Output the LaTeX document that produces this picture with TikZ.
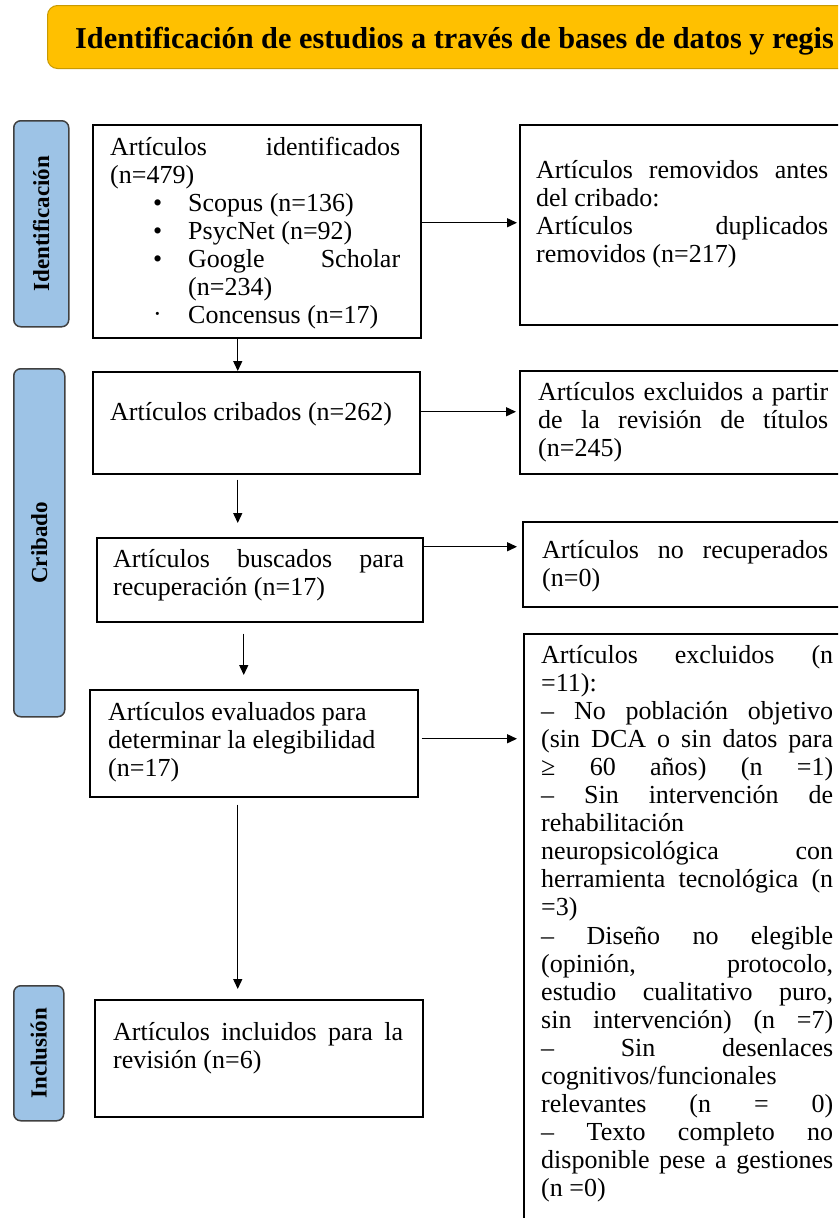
\documentclass[tikz,border=0pt]{standalone}
\usepackage{graphicx}
\usepackage{fontspec}
\setmainfont{Liberation Serif}
\usetikzlibrary{arrows.meta,calc}
\definecolor{gold}{HTML}{FFC000}
\definecolor{golddraw}{HTML}{C99A00}
\definecolor{lblue}{HTML}{9DC3E6}
\definecolor{lborder}{HTML}{404040}
\hbadness=10000 \hfuzz=80pt
\newcommand\Jl[2]{\hbox to #1{#2}}
\newcommand\Nl[1]{\hbox{#1}}
\newcommand\Par[1]{\vtop{\baselineskip=28.1pt\lineskiplimit=-100pt\lineskip=0pt #1}}
\newcommand\Bul[2]{\hbox{\hbox to 78pt{\hskip43pt #1\hfil}#2}}
\begin{document}
\begin{tikzpicture}[x=1pt,y=-1pt,
  box/.style={draw=black, line width=1.5pt, fill=white, inner sep=0pt, anchor=north west},
  lab/.style={draw=lborder, line width=1.5pt, fill=lblue, rounded corners=7pt, inner sep=0pt, anchor=north west, font=\bfseries\fontsize{23pt}{25pt}\selectfont},
  banner/.style={draw=golddraw, line width=1pt, fill=gold, rounded corners=10pt, inner sep=0pt, anchor=north west},
  txt/.style={anchor=base west, inner sep=0pt, font=\fontsize{26pt}{28.1pt}\selectfont},
  arr/.style={-{Triangle[length=10pt,width=9pt]}, line width=1.4pt}]
\useasboundingbox (0,0) rectangle (838,1218);
\clip (0,0) rectangle (838,1218);

% banner
\node[banner, minimum width=900pt, minimum height=63pt] (ban) at (47,5) {};
\node[anchor=base west, inner sep=0pt, font=\bfseries\fontsize{30.3pt}{32pt}\selectfont] (tban) at (75,48) {Identificación de estudios a través de bases de datos y regis};

% stage labels
\node[lab, minimum width=55pt, minimum height=206pt] (lab1) at (13,120) {\rotatebox{90}{Identificación}};
\node[lab, minimum width=51pt, minimum height=348pt] (lab2) at (13,368) {\rotatebox{90}{Cribado}};
\node[lab, minimum width=50pt, minimum height=135pt] (lab3) at (13,985) {\rotatebox{90}{Inclusión}};

% left boxes
\node[box, minimum width=328pt, minimum height=213pt] (b1) at (92,124) {};
\node[box, minimum width=327pt, minimum height=102pt] (b2) at (92,371) {};
\node[box, minimum width=326pt, minimum height=84pt] (b3) at (96,537) {};
\node[box, minimum width=328pt, minimum height=107pt] (b4) at (89,689) {};
\node[box, minimum width=328pt, minimum height=117pt] (b5) at (94,999) {};

% right boxes
\node[box, minimum width=340pt, minimum height=200pt] (r1) at (519,124) {};
\node[box, minimum width=340pt, minimum height=103pt] (r2) at (519,370) {};
\node[box, minimum width=340pt, minimum height=85pt] (r3) at (522,521) {};
\node[box, minimum width=340pt, minimum height=640pt] (r4) at (523,633) {};

% left texts
\node[txt] (tb1) at (110,155) {\Par{%
  \Jl{290pt}{Artículos identificados}
  \Nl{(n=479)}
  \Bul{\textbullet}{Scopus (n=136)}
  \Bul{\textbullet}{PsycNet (n=92)}
  \Bul{\textbullet}{\hbox to 212pt{Google Scholar}}
  \Bul{}{(n=234)}
  \Bul{\raisebox{1pt}{\textperiodcentered}}{Concensus (n=17)}}};
\node[txt] (tb2) at (110,420) {\Par{\Nl{Artículos cribados (n=262)}}};
\node[txt] (tb3) at (113,567) {\Par{%
  \Jl{291pt}{Artículos buscados para}
  \Nl{recuperación (n=17)}}};
\node[txt] (tb4) at (108,720) {\Par{%
  \Nl{Artículos evaluados para}
  \Nl{determinar la elegibilidad}
  \Nl{(n=17)}}};
\node[txt] (tb5) at (113,1040) {\Par{%
  \Jl{290pt}{Artículos incluidos para la}
  \Nl{revisión (n=6)}}};

% right texts
\node[txt] (tr1) at (536,178) {\Par{%
  \Jl{292pt}{Artículos removidos antes}
  \Nl{del cribado:}
  \Jl{292pt}{Artículos duplicados}
  \Nl{removidos (n=217)}}};
\node[txt] (tr2) at (538,400) {\Par{%
  \Jl{290pt}{Artículos excluidos a partir}
  \Jl{290pt}{de la revisión de títulos}
  \Nl{(n=245)}}};
\node[txt] (tr3) at (542,558) {\Par{%
  \Jl{286pt}{Artículos no recuperados}
  \Nl{(n=0)}}};
\node[txt] (tr4) at (541,663) {\Par{%
  \Jl{292pt}{Artículos excluidos (n}
  \Nl{=11):}
  \Jl{292pt}{– No población objetivo}
  \Jl{292pt}{(sin DCA o sin datos para}
  \Jl{292pt}{≥ 60 años) (n =1)}
  \Jl{292pt}{– Sin intervención de}
  \Nl{rehabilitación}
  \Jl{292pt}{neuropsicológica con}
  \Jl{292pt}{herramienta tecnológica (n}
  \Nl{=3)}
  \Jl{292pt}{– Diseño no elegible}
  \Jl{292pt}{(opinión, protocolo,}
  \Jl{292pt}{estudio cualitativo puro,}
  \Jl{292pt}{sin intervención) (n =7)}
  \Jl{292pt}{– Sin desenlaces}
  \Nl{cognitivos/funcionales}
  \Jl{292pt}{relevantes (n = 0)}
  \Jl{292pt}{– Texto completo no}
  \Jl{292pt}{disponible pese a gestiones}
  \Nl{(n =0)}}};

% vertical arrows
\draw[arr] ([xshift=-19pt]b1.south) -- ([xshift=-19pt]b1.south |- b2.north);
\draw[arr, shorten <=5pt, shorten >=14pt] ([xshift=-18.5pt]b2.south) -- ([xshift=-18.5pt]b2.south |- b3.north);
\draw[arr, shorten <=11pt, shorten >=14pt] ([xshift=-16pt]b3.south) -- ([xshift=-16pt]b3.south |- b4.north);
\draw[arr, shorten <=7pt, shorten >=10pt] ([xshift=-16pt]b4.south) -- ([xshift=-16pt]b4.south |- b5.north);

% horizontal arrows
\coordinate (p1) at ([yshift=2pt]r1.west);
\coordinate (p2) at ([yshift=10.5pt]r2.west);
\coordinate (p3) at ([yshift=17.5pt]r3.west);
\coordinate (p4) at ([yshift=215pt]r4.west);
\draw[arr, shorten >=2pt] (p1 -| b1.east) -- (p1);
\draw[arr, shorten >=3pt] (p2 -| b2.east) -- (p2);
\draw[arr, shorten >=5pt] (p3 -| b3.east) -- (p3);
\draw[arr, shorten <=3pt, shorten >=6pt] (p4 -| b4.east) -- (p4);
\end{tikzpicture}
\end{document}
